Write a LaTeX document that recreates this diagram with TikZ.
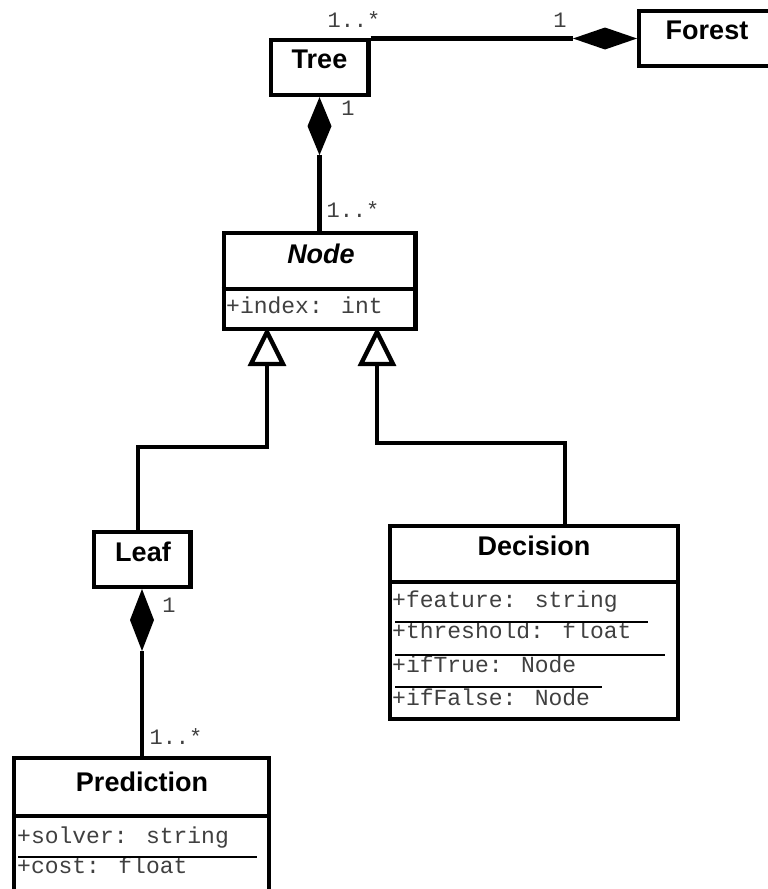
\documentclass[tikz,border=0pt]{standalone}
\usepackage{fontspec}
\setmainfont{Liberation Sans}
\newfontfamily\monofont{Liberation Mono}
\usetikzlibrary{calc}

\begin{document}
\begin{tikzpicture}[x=1pt,y=-1pt,
  classbox/.style={draw, line width=4.3pt, inner sep=0pt, fill=white},
  classname/.style={font=\fontsize{27}{30}\selectfont\bfseries, inner sep=0pt},
  attr/.style={font=\monofont\fontsize{23}{26}\selectfont, text=black!75, inner sep=0pt, anchor=base west},
  mult/.style={font=\monofont\fontsize{22}{24}\selectfont, text=black!75, inner sep=0pt},
  conn/.style={line width=4.3pt},
  rowline/.style={line width=1.8pt},
  divider/.style={line width=4.3pt}]

\useasboundingbox (0,0) rectangle (768,889);
\fill[white] (0,0) rectangle (768,889);
\clip (0,0) rectangle (768,889);

% class boxes
\node[classbox, minimum width=97.7pt, minimum height=55pt] (tree) at (319.5,67.5) {};
\node[classbox, minimum width=135.7pt, minimum height=55.2pt] (forest) at (707,38.5) {};
\node[classbox, minimum width=191.7pt, minimum height=95.7pt] (node) at (319.5,281) {};
\node[classbox, minimum width=96.7pt, minimum height=54.7pt] (leaf) at (142,559.5) {};
\node[classbox, minimum width=287.7pt, minimum height=192.7pt] (decision) at (534,622.5) {};
\node[classbox, minimum width=254.7pt, minimum height=162pt] (prediction) at (141.5,839) {};

% compartment dividers
\coordinate (ndiv) at (0,289);
\coordinate (ddiv) at (0,582);
\coordinate (pdiv) at (0,816);
\draw[divider] (node.west |- ndiv) -- (node.east |- ndiv);
\draw[divider] (decision.west |- ddiv) -- (decision.east |- ddiv);
\draw[divider] (prediction.west |- pdiv) -- (prediction.east |- pdiv);

% class names
\node[classname] (treename) at (319.5,59) {Tree};
\node[classname] (forestname) at (707,30) {Forest};
\node[classname, font=\fontsize{27}{30}\selectfont\bfseries\itshape] (nodename) at (321,254) {Node};
\node[classname] (leafname) at (143,552) {Leaf};
\node[classname] (decisionname) at (534,546) {Decision};
\node[classname] (predictionname) at (142,782) {Prediction};

% attributes
\node[attr] (aindex) at (226,313) {+index: int};
\node[attr] (afeature) at (392,607) {+feature: string};
\node[attr] (athreshold) at (392,638) {+threshold: float};
\node[attr] (aiftrue) at (392,672) {+ifTrue: Node};
\node[attr] (aiffalse) at (392,705) {+ifFalse: Node};
\node[attr] (asolver) at (17,843) {+solver: string};
\node[attr] (acost) at (17,873) {+cost: float};

% row separators
\draw[rowline] (395,622) -- (648,622);
\draw[rowline] (395,655) -- (665,655);
\draw[rowline] (395,687) -- (602,687);
\draw[rowline] (18,857) -- (257,857);

% composition: Forest owns Trees
\draw[conn] (tree.north east |- forest.west) -- ($(forest.west)+(-64,0)$);
\fill (forest.west) -- ++(-32,-11) -- ++(-32,11) -- ++(32,11) -- cycle;

% composition: Tree owns Nodes
\fill (tree.south) -- ++(12,29) -- ++(-12,29) -- ++(-12,-29) -- cycle;
\draw[conn] ($(tree.south)+(0,58)$) -- (node.north);

% composition: Leaf owns Predictions
\fill (leaf.south) -- ++(12,31) -- ++(-12,31) -- ++(-12,-31) -- cycle;
\draw[conn] ($(leaf.south)+(0,62)$) -- (leaf.south |- prediction.north);

% generalization: Leaf and Decision are Nodes
\coordinate (lapex) at (267,332);
\coordinate (rapex) at (377,332);
\draw[conn] ([xshift=-4pt]leaf.north) |- ($(lapex)+(0,115)$) -- ($(lapex)+(0,33)$);
\draw[conn] ([xshift=31pt]decision.north) |- ($(rapex)+(0,111)$) -- ($(rapex)+(0,33)$);
\draw[conn, fill=white] (lapex) -- ++(16,32) -- ++(-32,0) -- cycle;
\draw[conn, fill=white] (rapex) -- ++(16,32) -- ++(-32,0) -- cycle;

% multiplicities
\node[mult] (mtree) at (354,20) {1..*};
\node[mult] (mforest) at (560,20) {1};
\node[mult] (mtreeone) at (348,108) {1};
\node[mult] (mnode) at (353,210) {1..*};
\node[mult] (mleaf) at (169,605) {1};
\node[mult] (mpred) at (176,737) {1..*};
\end{tikzpicture}
\end{document}
